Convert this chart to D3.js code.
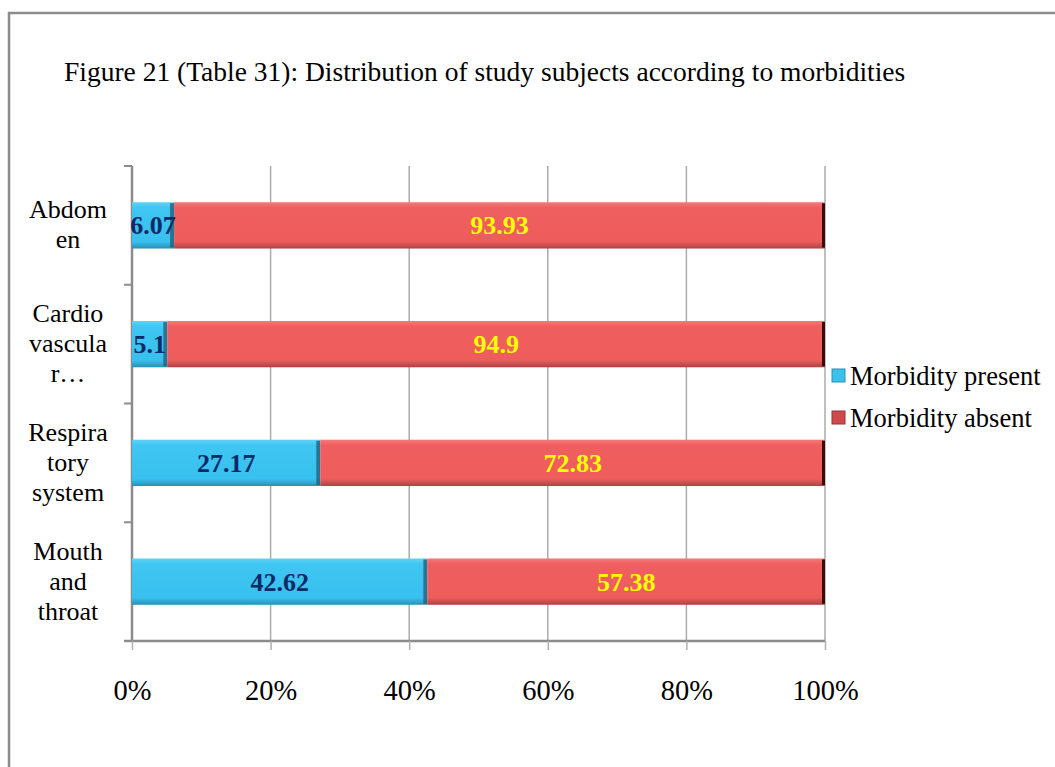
<!DOCTYPE html>
<html>
<head>
<meta charset="utf-8">
<script src="https://cdn.jsdelivr.net/npm/d3@7"></script>
<style>
  html, body { margin: 0; padding: 0; background: #fff; }
  svg { display: block; }
  svg text { font-family: "Liberation Serif", "Times New Roman", serif; }
</style>
</head>
<body>
<script>
// Morbidity distribution (percent of study subjects)
const categories = ["Abdomen", "Cardiovascular", "Respiratory system", "Mouth and throat"];
const categoryLines = [["Abdom", "en"], ["Cardio", "vascula", "r…"], ["Respira", "tory", "system"], ["Mouth", "and", "throat"]];
const presentValues = [6.07, 5.1, 27.17, 42.62];
const absentValues = [93.93, 94.9, 72.83, 57.38];
const seriesNames = ["Morbidity present", "Morbidity absent"];
const tickValues = [0, 20, 40, 60, 80, 100];
const tickLabels = ["0%", "20%", "40%", "60%", "80%", "100%"];
const title = "Figure 21 (Table 31): Distribution of study subjects according to morbidities";

const SERIF = '"Liberation Serif", "Times New Roman", serif';
const W = 1055, H = 767;
const svg = d3.select("body").append("svg").attr("width", W).attr("height", H)
  .attr("font-family", SERIF);

// outer frame
svg.append("rect").attr("x", 9).attr("y", 13).attr("width", W + 10).attr("height", H + 10)
  .attr("fill", "#fff").attr("stroke", "#8c8c8c").attr("stroke-width", 2.5);

svg.append("text").attr("x", 64).attr("y", 81).attr("font-size", 27.5).attr("font-family", SERIF)
  .attr("fill", "#000").text(title);

const plot = { left: 132, right: 825, top: 166, bottom: 641 };
const x = d3.scaleLinear().domain([0, 100]).range([plot.left, plot.right]);
const y = d3.scaleBand().domain(categories).range([plot.top, plot.bottom]).paddingInner(0.61).paddingOuter(0.305);

const defs = svg.append("defs");
function grad(id, stops) {
  const g = defs.append("linearGradient").attr("id", id).attr("x1", 0).attr("y1", 0).attr("x2", 0).attr("y2", 1);
  stops.forEach(s => g.append("stop").attr("offset", s[0]).attr("stop-color", s[1]));
}
grad("gBlue", [[0, "#5fd3f5"], [0.12, "#3fc6f2"], [0.85, "#38c0ee"], [1, "#2a8fb5"]]);
grad("gRed", [[0, "#f47a7a"], [0.12, "#f05f5f"], [0.85, "#ee5c5c"], [1, "#a84444"]]);

// vertical gridlines
svg.append("g").selectAll("line").data(tickValues.slice(1)).join("line")
  .attr("x1", d => x(d)).attr("x2", d => x(d))
  .attr("y1", plot.top).attr("y2", plot.bottom)
  .attr("stroke", "#ababab").attr("stroke-width", 1.5);

// value axis
const xAxis = d3.axisBottom(x).tickValues(tickValues).tickFormat((d, i) => tickLabels[i]).tickSize(9).tickPadding(30);
const gx = svg.append("g").attr("transform", `translate(0,${plot.bottom})`).call(xAxis);
gx.select(".domain").attr("stroke", "#8c8c8c").attr("stroke-width", 2.5).attr("d", `M${plot.left - 8},0H${plot.right}`);
gx.selectAll(".tick line").attr("stroke", "#b0b0b0").attr("stroke-width", 1.5);
gx.selectAll(".tick text").attr("font-size", 28.5).attr("fill", "#000").attr("font-family", SERIF);

// category axis
const yBounds = d3.range(categories.length + 1).map(i => plot.top + i * (plot.bottom - plot.top) / categories.length);
const gy = svg.append("g");
gy.append("line").attr("x1", plot.left).attr("x2", plot.left).attr("y1", plot.top).attr("y2", plot.bottom)
  .attr("stroke", "#8c8c8c").attr("stroke-width", 2.5);
gy.selectAll("line.tk").data(yBounds).join("line").attr("class", "tk")
  .attr("x1", plot.left - 8).attr("x2", plot.left).attr("y1", d => d).attr("y2", d => d)
  .attr("stroke", "#8c8c8c").attr("stroke-width", 2);

categories.forEach((c, i) => {
  const lines = categoryLines[i];
  const cy = y(c) + y.bandwidth() / 2;
  const t = svg.append("text").attr("text-anchor", "middle").attr("font-size", 26)
    .attr("font-family", SERIF).attr("fill", "#000");
  lines.forEach((l, j) => {
    t.append("tspan").attr("x", 68)
      .attr("y", cy + (j - (lines.length - 1) / 2) * 30 + 8).text(l);
  });
});

// stacked bars
const rows = categories.map((c, i) => ({ c, p: presentValues[i], a: absentValues[i] }));
const bars = svg.append("g");
rows.forEach(r => {
  const y0 = y(r.c), h = y.bandwidth();
  // present segment
  bars.append("rect").attr("x", x(0)).attr("y", y0).attr("width", x(r.p) - x(0)).attr("height", h).attr("fill", "url(#gBlue)");
  bars.append("rect").attr("x", x(r.p) - 4).attr("y", y0 + 1).attr("width", 4).attr("height", h - 2).attr("fill", "#25607a").attr("opacity", 0.8);
  // absent segment
  bars.append("rect").attr("x", x(r.p)).attr("y", y0).attr("width", x(r.p + r.a) - x(r.p)).attr("height", h).attr("fill", "url(#gRed)");
  bars.append("rect").attr("x", x(r.p + r.a) - 3).attr("y", y0 + 1).attr("width", 3).attr("height", h - 2).attr("fill", "#3a0d0d");

  bars.append("text").attr("x", (x(0) + x(r.p)) / 2).attr("y", y0 + h / 2 + 9)
    .attr("text-anchor", "middle").attr("font-size", 26).attr("font-weight", "bold")
    .attr("font-family", SERIF).attr("fill", "#0b2a68").text(r.p);
  bars.append("text").attr("x", (x(r.p) + x(r.p + r.a)) / 2).attr("y", y0 + h / 2 + 9)
    .attr("text-anchor", "middle").attr("font-size", 26).attr("font-weight", "bold")
    .attr("font-family", SERIF).attr("fill", "#ffff00").text(r.a);
});

// legend
const legend = svg.append("g");
seriesNames.forEach((n, i) => {
  const ly = 376 + i * 42;
  legend.append("rect").attr("x", 832).attr("y", ly - 7).attr("width", 13).attr("height", 13)
    .attr("fill", i === 0 ? "#3cc0ec" : "#d04a4a").attr("stroke", i === 0 ? "#2a8fb5" : "#9a3535").attr("stroke-width", 1);
  legend.append("text").attr("x", 850).attr("y", ly + 9).attr("font-size", 26.5)
    .attr("font-family", SERIF).attr("fill", "#000").text(n);
});
</script>
</body>
</html>
